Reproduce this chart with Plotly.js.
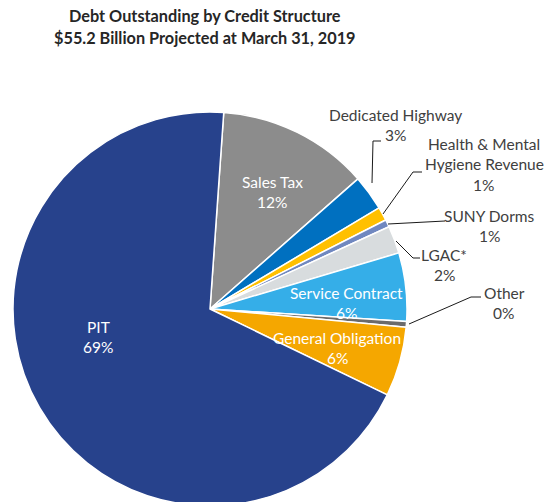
<!DOCTYPE html>
<html>
<head>
<meta charset="utf-8">
<script src="https://cdn.plot.ly/plotly-3.0.1.min.js"></script>
<style>
html,body{margin:0;padding:0;overflow:hidden;background:#fff;}
#chart{width:545px;height:512px;}
</style>
</head>
<body>
<div id="chart"></div>
<script>
// ---- data (billions of dollars) ----
const categories = ["Sales Tax", "Dedicated Highway", "Health & Mental Hygiene Revenue", "SUNY Dorms", "LGAC*", "Service Contract", "Other", "General Obligation", "PIT"];
const debtBillions = [6.85, 1.6, 0.62, 0.33, 1.25, 3.1, 0.25, 3.15, 38.05];
const sliceColors = ["#8C8C8C", "#0070C0", "#FFC000", "#7088C0", "#D8DCDE", "#35AEE8", "#6B6B6B", "#F5A700", "#27428C"];
const titleLines = ["Debt Outstanding by Credit Structure", "$55.2 Billion Projected at March 31, 2019"];

// ---- layout helpers (pixel -> paper) ----
const W = 545, H = 512;
const px = (x) => x / W;
const py = (y) => (H - y) / H;

const total = debtBillions.reduce((a, b) => a + b, 0);
const pct = debtBillions.map(v => Math.round(v / total * 100) + "%");

const labelSpec = {
  "Sales Tax":          {lines: ["Sales Tax"], x: 272, y: 182, inside: true},
  "Service Contract":   {lines: ["Service Contract"], x: 346, y: 293, inside: true},
  "General Obligation": {lines: ["General Obligation"], x: 337, y: 338, inside: true},
  "PIT":                {lines: ["PIT"], x: 98, y: 327, inside: true},
  "Dedicated Highway":  {lines: ["Dedicated Highway"], x: 395, y: 115, inside: false},
  "Health & Mental Hygiene Revenue": {lines: ["Health & Mental", "Hygiene Revenue"], x: 484, y: 144, inside: false},
  "SUNY Dorms":         {lines: ["SUNY Dorms"], x: 489, y: 216, inside: false},
  "LGAC*":              {lines: ["LGAC*"], x: 444, y: 255, inside: false},
  "Other":              {lines: ["Other"], x: 504, y: 293, inside: false}
};
const pctOffsets = {"Dedicated Highway": 395, "Health & Mental Hygiene Revenue": 483, "SUNY Dorms": 489, "LGAC*": 444, "Other": 503};

const annotations = [];
const fontFam = "Lato, 'Open Sans', sans-serif";
titleLines.forEach((t, i) => {
  annotations.push({text: "<b>" + t + "</b>", x: px(205), y: py(15 + i * 22.5), xref: "paper", yref: "paper",
    xanchor: "center", yanchor: "middle", showarrow: false,
    font: {family: fontFam, size: 16.3, color: "#262626"}});
});
categories.forEach((c, i) => {
  const s = labelSpec[c];
  const col = s.inside ? "#FFFFFF" : "#404040";
  const lines = s.lines.concat([pct[i]]);
  lines.forEach((ln, j) => {
    let x = s.x;
    if (j === lines.length - 1 && pctOffsets[c] !== undefined) x = pctOffsets[c];
    annotations.push({text: ln, x: px(x), y: py(s.y + j * 20.3), xref: "paper", yref: "paper",
      xanchor: "center", yanchor: "middle", showarrow: false,
      font: {family: fontFam, size: 15.5, color: col}});
  });
});

// leader lines (pixel paths)
const leaders = [
  [[372,183],[373,141],[381,141]],
  [[383,214],[413,172],[422,172]],
  [[388,224],[445,221]],
  [[396,241],[413,258],[420,258]],
  [[409,324],[471,297],[481,297]]
];
const shapes = leaders.map(pts => ({
  type: "path", xref: "paper", yref: "paper",
  path: pts.map((p, k) => (k ? "L" : "M") + px(p[0]) + "," + py(p[1])).join(" "),
  line: {color: "#1a1a1a", width: 1}
}));

const cx = 210, cy = 309, r = 197;
const trace = {
  type: "pie",
  labels: categories,
  values: debtBillions,
  sort: false,
  direction: "clockwise",
  rotation: 4,
  marker: {colors: sliceColors, line: {color: "#FFFFFF", width: 1.5}},
  textinfo: "none",
  hoverinfo: "label+percent",
  showlegend: false,
  domain: {x: [px(cx - r), px(cx + r)], y: [py(cy + r), py(cy - r)]}
};

Plotly.newPlot("chart", [trace], {
  width: W, height: H,
  margin: {l: 0, r: 0, t: 0, b: 0},
  paper_bgcolor: "#FFFFFF",
  showlegend: false,
  annotations: annotations,
  shapes: shapes
}, {displayModeBar: false, staticPlot: true});
</script>
</body>
</html>
